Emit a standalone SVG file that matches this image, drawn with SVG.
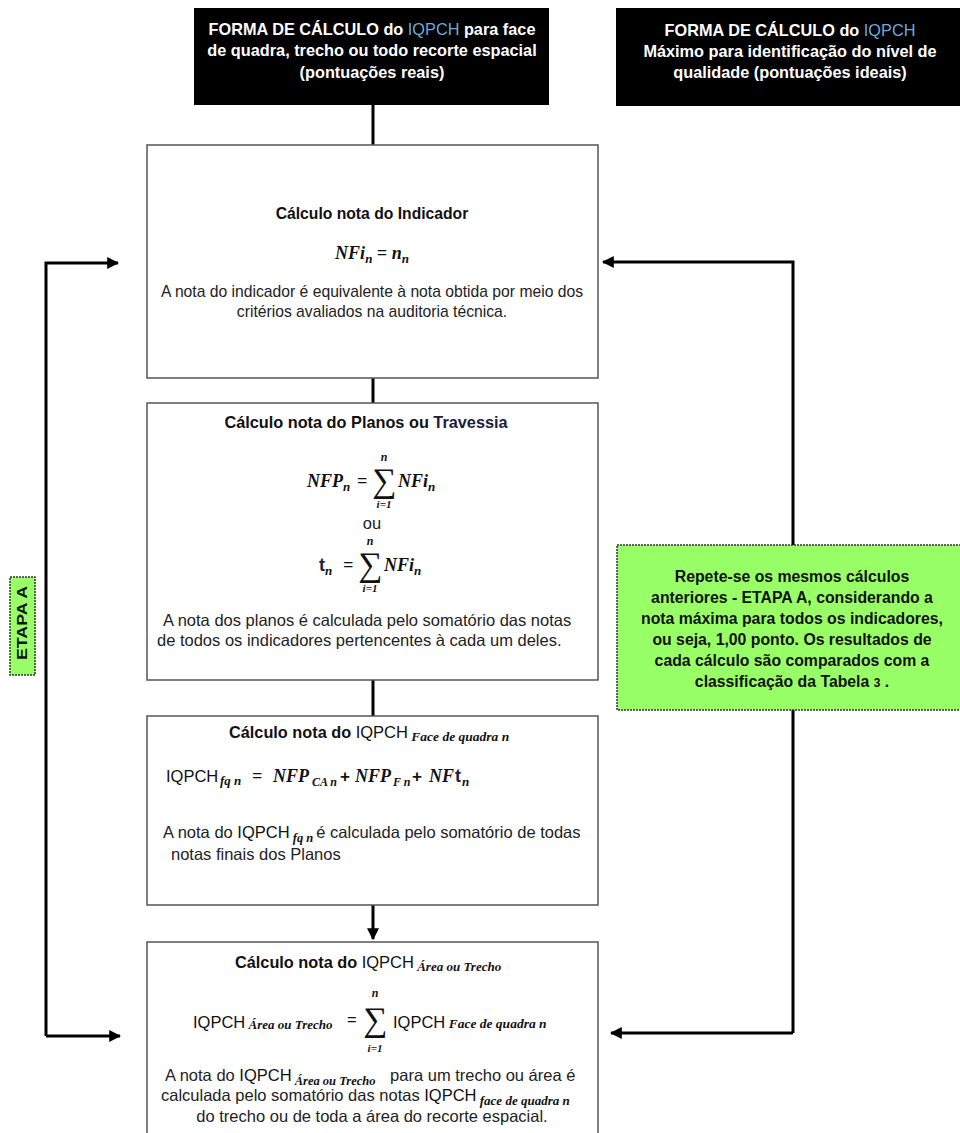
<svg xmlns="http://www.w3.org/2000/svg" width="960" height="1133" viewBox="0 0 960 1133">
<style>
.hdr{fill:#000}
.ht{font-family:"Liberation Sans",Arial,sans-serif;font-size:16.3px;font-weight:bold;fill:#fff;text-anchor:middle}
.blue{fill:#6FA8DC;font-weight:normal}
.box{fill:#fff;stroke:#555;stroke-width:1.5}
.ttl{font-family:"Liberation Sans",Arial,sans-serif;font-size:16.3px;font-weight:bold;fill:#111}
.tx{font-family:"Liberation Sans",Arial,sans-serif;font-size:16.5px;fill:#222}
.iq{font-family:"Liberation Sans",Arial,sans-serif;font-size:16.5px;font-weight:normal;fill:#111}
.m{font-family:"Liberation Serif","Times New Roman",serif;font-weight:bold;font-style:italic;fill:#111;font-size:18px}
.ms{font-family:"Liberation Serif","Times New Roman",serif;font-weight:bold;font-style:italic;fill:#111;font-size:12px}
.pl{font-family:"Liberation Sans",Arial,sans-serif;font-weight:bold;fill:#111;font-size:17px}
.sig{font-family:"Liberation Serif","DejaVu Serif",serif;font-size:34px;fill:#111;text-anchor:middle}
.conn{stroke:#000;stroke-width:3;fill:none}
.green{fill:#99FF66;stroke:#333;stroke-width:1.5;stroke-dasharray:2 1}
.gt{font-family:"Liberation Sans",Arial,sans-serif;font-size:15.8px;font-weight:bold;fill:#111;text-anchor:middle}
</style>
<defs>
<marker id="ah" viewBox="0 0 10 10" refX="9" refY="5" markerWidth="4" markerHeight="4" orient="auto" markerUnits="strokeWidth">
<path d="M0,0 L10,5 L0,10 z" fill="#000"/>
</marker>
</defs>
<rect width="960" height="1133" fill="#fff"/>

<g id="connectors">
<line class="conn" x1="373" y1="105" x2="373" y2="145"/>
<line class="conn" x1="373" y1="378" x2="373" y2="403"/>
<line class="conn" x1="373" y1="680" x2="373" y2="716"/>
<line class="conn" x1="373" y1="905" x2="373" y2="939" marker-end="url(#ah)"/>
<polyline class="conn" points="46,1036 46,263 118,263" marker-end="url(#ah)"/>
<line class="conn" x1="46" y1="1036" x2="120" y2="1036" marker-end="url(#ah)"/>
<polyline class="conn" points="793,1033 793,262 603,262" marker-end="url(#ah)"/>
<line class="conn" x1="793" y1="1033" x2="611" y2="1033" marker-end="url(#ah)"/>
</g>

<g id="header1">
<rect class="hdr" x="194" y="8" width="355" height="97"/>
<text class="ht" x="372" y="35">FORMA DE CÁLCULO do <tspan class="blue">IQPCH</tspan> para face</text>
<text class="ht" x="372" y="56">de quadra, trecho ou todo recorte espacial</text>
<text class="ht" x="372" y="78">(pontuações reais)</text>
</g>

<g id="header2">
<rect class="hdr" x="616" y="8" width="344" height="98"/>
<text class="ht" x="790" y="36">FORMA DE CÁLCULO do <tspan class="blue">IQPCH</tspan></text>
<text class="ht" x="790" y="57">Máximo para identificação do nível de</text>
<text class="ht" x="790" y="78">qualidade (pontuações ideais)</text>
</g>

<g id="box1">
<rect class="box" x="147" y="145" width="451" height="233"/>
<text class="ttl" x="372" y="219" text-anchor="middle" style="font-size:15.7px">Cálculo nota do Indicador</text>
<text class="m" x="372" y="259" text-anchor="middle">NFi<tspan class="ms" style="font-size:13px" dy="4">n</tspan><tspan dy="-4"> =  </tspan>n<tspan class="ms" style="font-size:13px" dy="4">n</tspan></text>
<text class="tx" x="372" y="297" text-anchor="middle" style="font-size:15.7px">A nota do indicador é equivalente à nota obtida por meio dos</text>
<text class="tx" x="372" y="317" text-anchor="middle" style="font-size:15.7px">critérios avaliados na auditoria técnica.</text>
</g>

<g id="box2">
<rect class="box" x="147" y="403" width="451" height="277"/>
<text class="ttl" x="366" y="428" text-anchor="middle">Cálculo nota do Planos ou <tspan fill="#1c1c3c">Travessia</tspan></text>
<text class="m" x="307" y="487">NFP<tspan class="ms" style="font-size:13px" dy="4">n</tspan></text>
<text class="m" x="357" y="487">=</text>
<text class="sig" x="384" y="492">∑</text>
<text class="ms" x="384" y="461" text-anchor="middle">n</text>
<text class="ms" x="384" y="508" text-anchor="middle" style="font-size:11px">i=1</text>
<text class="m" x="398" y="487">NFi<tspan class="ms" style="font-size:13px" dy="4">n</tspan></text>
<text class="tx" x="372" y="529" text-anchor="middle">ou</text>
<text x="319" y="571" font-family="Liberation Sans,Arial,sans-serif" font-weight="bold" font-size="18" fill="#1c2340">t<tspan class="ms" style="font-size:13px" dy="4">n</tspan></text>
<text class="m" x="343" y="571">=</text>
<text class="sig" x="370" y="576">∑</text>
<text class="ms" x="370" y="545" text-anchor="middle">n</text>
<text class="ms" x="370" y="592" text-anchor="middle" style="font-size:11px">i=1</text>
<text class="m" x="384" y="571">NFi<tspan class="ms" style="font-size:13px" dy="4">n</tspan></text>
<text class="tx" x="163" y="626">A nota dos planos é calculada pelo somatório das notas</text>
<text class="tx" x="157" y="646">de todos os indicadores pertencentes à cada um deles.</text>
</g>

<g id="box3">
<rect class="box" x="147" y="716" width="451" height="189"/>
<text class="ttl" x="229" y="738">Cálculo nota do <tspan class="iq">IQPCH</tspan><tspan class="ms" style="font-size:13.5px" dy="3"> Face de quadra n</tspan></text>
<text class="iq" x="166" y="782">IQPCH</text>
<text class="ms" x="220" y="785" style="font-size:13px">fq n</text>
<text class="m" x="252" y="782">=</text>
<text class="m" x="273" y="782">NFP</text>
<text class="ms" x="312" y="786">CA n</text>
<text class="pl" x="340" y="782">+</text>
<text class="m" x="355" y="782">NFP</text>
<text class="ms" x="393" y="786">F n</text>
<text class="pl" x="412" y="782">+</text>
<text class="m" x="429" y="782">NF</text>
<text x="455" y="782" font-family="Liberation Sans,Arial,sans-serif" font-weight="bold" font-size="18" fill="#1c2340">t</text>
<text class="ms" x="462" y="786" style="font-size:13px">n</text>
<text class="tx" x="163" y="838">A nota do <tspan class="iq">IQPCH</tspan><tspan class="ms" style="font-size:12.5px" dy="4"> fq n </tspan><tspan dy="-4">é calculada pelo somatório de todas</tspan></text>
<text class="tx" x="171" y="860">notas finais dos Planos</text>
</g>

<g id="box4">
<rect class="box" x="147" y="942" width="451" height="200"/>
<text class="ttl" x="235" y="968">Cálculo nota do <tspan class="iq">IQPCH</tspan><tspan class="ms" style="font-size:13px" dy="3"> Área ou Trecho</tspan></text>
<text class="iq" x="193" y="1028">IQPCH<tspan class="ms" style="font-size:13px" dy="1"> Área ou Trecho</tspan></text>
<text class="iq" x="347" y="1025">=</text>
<text class="sig" x="375" y="1031">∑</text>
<text class="ms" x="375" y="997" text-anchor="middle">n</text>
<text class="ms" x="375" y="1052" text-anchor="middle" style="font-size:11px">i=1</text>
<text class="iq" x="393" y="1028">IQPCH<tspan class="ms" style="font-size:13.5px"> Face de quadra n</tspan></text>
<text class="tx" x="165" y="1081">A nota do <tspan class="iq">IQPCH</tspan><tspan class="ms" style="font-size:12.5px" dy="4"> Área ou Trecho</tspan><tspan dy="-4" dx="10">   para um trecho ou área é</tspan></text>
<text class="tx" x="161" y="1101">calculada pelo somatório das notas <tspan class="iq">IQPCH</tspan><tspan class="ms" style="font-size:13px" dy="4"> face de quadra n</tspan></text>
<text class="tx" x="372" y="1122" text-anchor="middle">do trecho ou de toda a área do recorte espacial.</text>
</g>

<g id="green-note">
<rect class="green" x="617" y="545" width="345" height="165"/>
<text class="gt" x="792" y="582">Repete-se os mesmos cálculos</text>
<text class="gt" x="792" y="603">anteriores - ETAPA A, considerando a</text>
<text class="gt" x="792" y="624">nota máxima para todos os indicadores,</text>
<text class="gt" x="792" y="645">ou seja, 1,00 ponto. Os resultados de</text>
<text class="gt" x="792" y="666">cada cálculo são comparados com a</text>
<text class="gt" x="792" y="687">classificação da Tabela <tspan style="font-size:12px">3</tspan> .</text>
</g>

<g id="etapa-a">
<rect class="green" x="10" y="577" width="25" height="98"/>
<text x="0" y="0" transform="translate(27,623) rotate(-90)" text-anchor="middle" font-family="Liberation Sans,Arial,sans-serif" font-weight="bold" font-size="14" textLength="74" lengthAdjust="spacingAndGlyphs" fill="#111">ETAPA A</text>
</g>
</svg>
